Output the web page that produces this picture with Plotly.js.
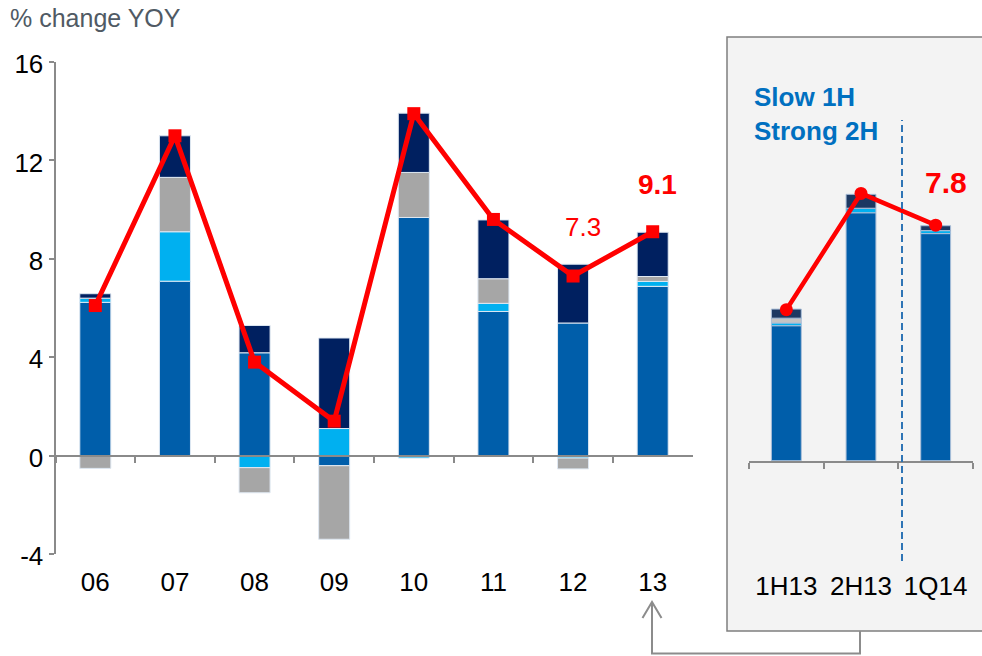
<!DOCTYPE html>
<html>
<head>
<meta charset="utf-8">
<script src="https://cdn.plot.ly/plotly-3.0.1.min.js"></script>
<style>
  html, body { margin: 0; padding: 0; background: #ffffff; }
  #chart { width: 982px; height: 656px; }
</style>
</head>
<body>
<div id="chart"></div>
<script>
// ---- Data ----
const years = ['06', '07', '08', '09', '10', '11', '12', '13'];
const blueSeg = [6.23, 7.09, 4.18, -0.41, 9.68, 5.86, 5.39, 6.88];
const lightBlueSeg = [0.17, 2.01, -0.49, 1.10, -0.10, 0.33, -0.10, 0.20];
const graySeg = [-0.52, 2.21, -1.02, -2.99, 1.83, 1.00, -0.44, 0.20];
const navySeg = [0.18, 1.69, 1.11, 3.68, 2.41, 2.39, 2.39, 1.80];
const totalGrowth = [6.1, 13.0, 3.8, 1.4, 13.9, 9.6, 7.3, 9.1];

const yTickValues = [-4, 0, 4, 8, 12, 16];

const periods = ['1H13', '2H13', '1Q14'];
const pBlueSeg = [4.47, 8.21, 7.52];
const pLightBlueSeg = [0.09, 0.15, 0.10];
const pGraySeg = [0.16, 0.00, 0.00];
const pNavySeg = [0.30, 0.46, 0.16];
const pTotalGrowth = [5.0, 8.85, 7.8];

// ---- Layout helpers ----
const W = 982, H = 656;
const fx = p => p / W;
const fy = p => 1 - p / H;
const FONT = 'Liberation Sans, Arial, sans-serif';
const AXIS_GRAY = '#8a8a8a';

const C_BLUE = '#005eaa', C_LBLUE = '#00b0f0', C_GRAY = '#a6a6a6', C_NAVY = '#002060';
const C_NAVY2 = '#1c3862';
const RED = '#ff0000';

function bar(x, y, color, xa, ya, lineColor, width) {
  return {
    type: 'bar', x: x, y: y, xaxis: xa, yaxis: ya, width: width,
    marker: { color: color, line: { color: lineColor, width: 1 } },
    hoverinfo: 'x+y', showlegend: false
  };
}

const mainEdge = '#dfe8f2';
const sideEdge = '#a9bed8';

const traces = [
  bar(years, blueSeg, C_BLUE, 'x', 'y', mainEdge, 0.39),
  bar(years, lightBlueSeg, C_LBLUE, 'x', 'y', mainEdge, 0.39),
  bar(years, graySeg, C_GRAY, 'x', 'y', mainEdge, 0.39),
  bar(years, navySeg, C_NAVY, 'x', 'y', mainEdge, 0.39),
  {
    type: 'scatter', mode: 'lines+markers', x: years, y: totalGrowth,
    xaxis: 'x', yaxis: 'y', cliponaxis: false,
    line: { color: RED, width: 5 },
    marker: { symbol: 'square', size: 13, color: RED },
    showlegend: false
  },
  bar(periods, pBlueSeg, C_BLUE, 'x2', 'y2', sideEdge, 0.40),
  bar(periods, pLightBlueSeg, C_LBLUE, 'x2', 'y2', sideEdge, 0.40),
  bar(periods, pGraySeg, '#c4c4c4', 'x2', 'y2', sideEdge, 0.40),
  bar(periods, pNavySeg, C_NAVY2, 'x2', 'y2', sideEdge, 0.40),
  {
    type: 'scatter', mode: 'lines+markers', x: periods, y: pTotalGrowth,
    xaxis: 'x2', yaxis: 'y2', cliponaxis: false,
    line: { color: RED, width: 4.5 },
    marker: { symbol: 'circle', size: 13, color: RED },
    showlegend: false
  }
];

const zeroMain = 456;      // pixel of y = 0 on the main chart
const zeroSide = 460.7;    // pixel of y = 0 on the side panel
const sideScale = 30.2;    // px per unit on the side panel

const i12 = years.indexOf('12');
const i13 = years.indexOf('13');
const iQ = periods.indexOf('1Q14');

const layout = {
  width: W, height: H,
  margin: { l: 0, r: 0, t: 0, b: 0, pad: 0 },
  paper_bgcolor: '#ffffff',
  plot_bgcolor: 'rgba(0,0,0,0)',
  barmode: 'relative',
  font: { family: FONT, color: '#000000', size: 26 },
  title: {
    text: '% change YOY',
    font: { family: FONT, size: 25, color: '#505a64' },
    xref: 'paper', yref: 'paper',
    x: fx(10), xanchor: 'left',
    y: fy(18), yanchor: 'middle'
  },
  xaxis: {
    type: 'category', categoryarray: years, categoryorder: 'array',
    domain: [fx(55.5), fx(692.5)], range: [-0.5, 7.5],
    anchor: 'free', position: fy(zeroMain),
    showline: true, linecolor: AXIS_GRAY, linewidth: 2,
    ticks: 'outside', tickson: 'boundaries', ticklen: 6, tickwidth: 2, tickcolor: AXIS_GRAY,
    tickfont: { family: FONT, size: 26, color: '#000' },
    ticklabelstandoff: 103,
    showgrid: false, zeroline: false, fixedrange: true
  },
  yaxis: {
    domain: [fy(554), fy(62)], range: [-4, 16],
    tickmode: 'array', tickvals: yTickValues, ticktext: yTickValues.map(v => String(v)),
    anchor: 'x',
    showline: true, linecolor: AXIS_GRAY, linewidth: 2,
    ticks: 'outside', ticklen: 5, tickwidth: 2, tickcolor: AXIS_GRAY,
    tickfont: { family: FONT, size: 26, color: '#000' },
    ticklabelshift: 2,
    showgrid: false, zeroline: false, fixedrange: true
  },
  xaxis2: {
    type: 'category', categoryarray: periods, categoryorder: 'array',
    domain: [fx(749), fx(973)], range: [-0.5, 2.5],
    anchor: 'y2',
    showline: true, linecolor: AXIS_GRAY, linewidth: 2,
    ticks: 'outside', tickson: 'boundaries', ticklen: 6, tickwidth: 2, tickcolor: AXIS_GRAY,
    tickfont: { family: FONT, size: 26, color: '#000' },
    ticklabelstandoff: 101,
    showgrid: false, zeroline: false, fixedrange: true
  },
  yaxis2: {
    domain: [fy(zeroSide), fy(zeroSide - 12 * sideScale)], range: [0, 12],
    anchor: 'x2', visible: false, showgrid: false, zeroline: false, fixedrange: true
  },
  shapes: [
    { type: 'rect', xref: 'paper', yref: 'paper', layer: 'below',
      x0: fx(727), x1: fx(1010), y0: fy(631), y1: fy(37),
      fillcolor: '#f3f3f3', line: { color: '#7f7f7f', width: 1.5 } },
    { type: 'line', xref: 'paper', yref: 'paper',
      x0: fx(902), x1: fx(902), y0: fy(561), y1: fy(120),
      line: { color: '#2e74b5', width: 2, dash: '7px,4px' } },
    { type: 'path', xref: 'paper', yref: 'paper',
      path: 'M ' + fx(860) + ' ' + fy(631) + ' L ' + fx(860) + ' ' + fy(653.5) +
            ' L ' + fx(652) + ' ' + fy(653.5) + ' L ' + fx(652) + ' ' + fy(603),
      line: { color: '#8c8c8c', width: 2 } },
    { type: 'path', xref: 'paper', yref: 'paper',
      path: 'M ' + fx(642.5) + ' ' + fy(618) + ' L ' + fx(652) + ' ' + fy(602) +
            ' L ' + fx(661.5) + ' ' + fy(618),
      line: { color: '#8c8c8c', width: 2 } }
  ],
  annotations: [
    { xref: 'x', yref: 'y', x: i12, y: totalGrowth[i12], showarrow: false,
      xshift: 10, yshift: 49, text: totalGrowth[i12].toFixed(1),
      font: { family: FONT, size: 26, color: RED } },
    { xref: 'x', yref: 'y', x: i13, y: totalGrowth[i13], showarrow: false,
      xshift: 5, yshift: 47, text: '<b>' + totalGrowth[i13].toFixed(1) + '</b>',
      font: { family: FONT, size: 28, color: RED } },
    { xref: 'x2', yref: 'y2', x: iQ, y: pTotalGrowth[iQ], showarrow: false,
      xshift: 10, yshift: 43, text: '<b>' + pTotalGrowth[iQ].toFixed(1) + '</b>',
      font: { family: FONT, size: 30, color: RED } },
    { xref: 'paper', yref: 'paper', x: fx(752), y: fy(114), xanchor: 'left', yanchor: 'middle',
      align: 'left', showarrow: false, text: '<b>Slow 1H<br>Strong 2H</b>',
      font: { family: FONT, size: 26, color: '#0070c0' } }
  ]
};

Plotly.newPlot('chart', traces, layout, { staticPlot: true, displayModeBar: false });
</script>
</body>
</html>
